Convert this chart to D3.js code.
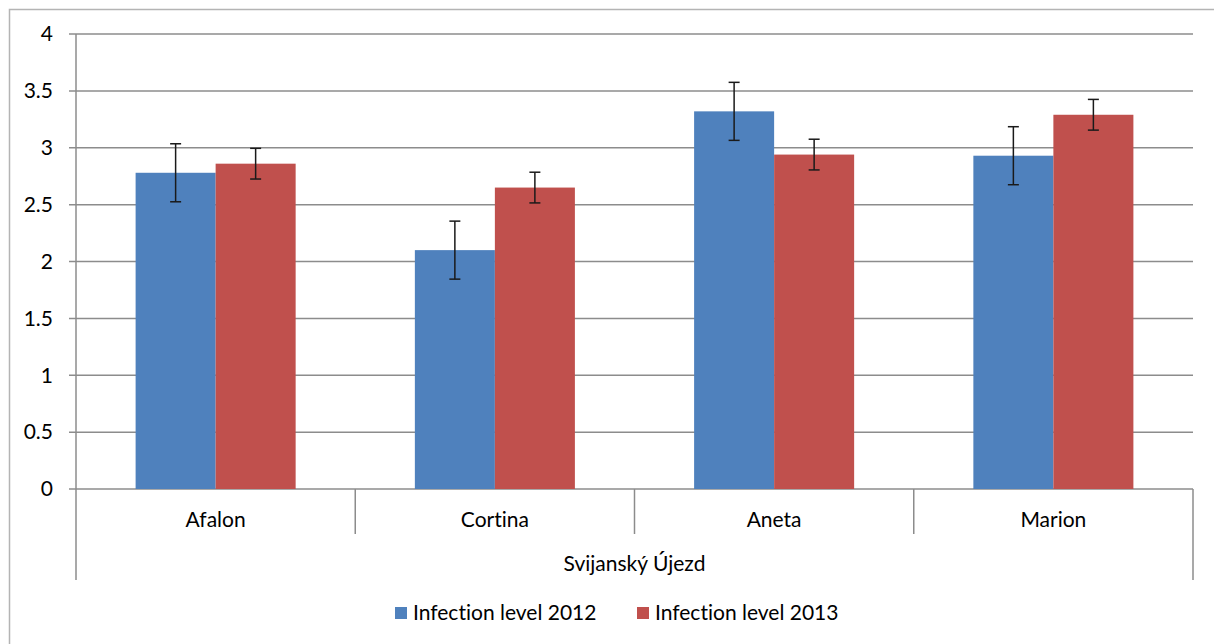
<!DOCTYPE html>
<html><head><meta charset="utf-8">
<script src="https://cdn.jsdelivr.net/npm/d3@7"></script>
<style>body{margin:0;background:#fff}svg{display:block}text{font-variant-ligatures:none;font-feature-settings:"liga" 0}</style>
</head><body>
<svg id="c" width="1214" height="644"></svg>
<script>
const categories = ["Afalon", "Cortina", "Aneta", "Marion"];
const seriesNames = ["Infection level 2012", "Infection level 2013"];
const values2012 = [2.78, 2.10, 3.32, 2.93];
const values2013 = [2.86, 2.65, 2.94, 3.29];
const err2012 = [0.255, 0.255, 0.255, 0.255];
const err2013 = [0.135, 0.135, 0.135, 0.135];
const yTicks = [0, 0.5, 1, 1.5, 2, 2.5, 3, 3.5, 4];
const groupLabel = "Svijanský Újezd";
const colors = ["#4f81bd", "#c0504d"];

const svg = d3.select("#c");
const font = "Lato, 'Open Sans', sans-serif";
const fs = 21;
const L = 76, R = 1193, T = 34, B = 489;
const grid = "#8c8c8c";

// outer frame
svg.append("path").attr("d", "M9.5,644 V9.5 H1214").attr("fill","none").attr("stroke","#b4b4b4").attr("stroke-width",1.5);

const y = d3.scaleLinear().domain([0,4]).range([B,T]);
const x0 = d3.scaleBand().domain(categories).range([L,R]).paddingInner(0).paddingOuter(0);
const x1 = d3.scaleBand().domain([0,1]).range([0, x0.bandwidth()]).paddingInner(0).paddingOuter(0.745);

// gridlines
svg.append("g").selectAll("line").data(yTicks).join("line")
  .attr("x1", L-7).attr("x2", R).attr("y1", d=>y(d)).attr("y2", d=>y(d))
  .attr("stroke", grid).attr("stroke-width", 1.5);

// y labels
svg.append("g").selectAll("text").data(yTicks).join("text")
  .attr("x", 53).attr("y", d=>y(d)).attr("dy","0.35em").attr("text-anchor","end")
  .attr("font-family", font).attr("font-size", fs).attr("fill","#000")
  .text(d=>d);

// bars
const data = [];
categories.forEach((c,i)=>{
  data.push({c, s:0, v:values2012[i], e:err2012[i]});
  data.push({c, s:1, v:values2013[i], e:err2013[i]});
});
svg.append("g").selectAll("rect").data(data).join("rect")
  .attr("x", d=>x0(d.c)+x1(d.s)).attr("width", x1.bandwidth())
  .attr("y", d=>y(d.v)).attr("height", d=>y(0)-y(d.v))
  .attr("fill", d=>colors[d.s]);

// error bars
const eg = svg.append("g").attr("stroke","#1a1a1a").attr("stroke-width",1.5);
data.forEach(d=>{
  const cx = x0(d.c)+x1(d.s)+x1.bandwidth()/2;
  eg.append("line").attr("x1",cx).attr("x2",cx).attr("y1",y(d.v+d.e)).attr("y2",y(d.v-d.e));
  eg.append("line").attr("x1",cx-5.5).attr("x2",cx+5.5).attr("y1",y(d.v+d.e)).attr("y2",y(d.v+d.e));
  eg.append("line").attr("x1",cx-5.5).attr("x2",cx+5.5).attr("y1",y(d.v-d.e)).attr("y2",y(d.v-d.e));
});

// axes lines
svg.append("line").attr("x1",L).attr("x2",L).attr("y1",T).attr("y2",580).attr("stroke",grid).attr("stroke-width",1.5);
svg.append("line").attr("x1",R).attr("x2",R).attr("y1",B).attr("y2",580).attr("stroke",grid).attr("stroke-width",1.5);
svg.append("g").selectAll("line").data(categories.slice(1)).join("line")
  .attr("x1", d=>x0(d)).attr("x2", d=>x0(d)).attr("y1", B).attr("y2", 534)
  .attr("stroke",grid).attr("stroke-width",1.5);

// category labels
svg.append("g").selectAll("text").data(categories).join("text")
  .attr("x", d=>x0(d)+x0.bandwidth()/2).attr("y", 520).attr("dy","0.35em")
  .attr("text-anchor","middle").attr("font-family",font).attr("font-size",fs).text(d=>d);
svg.append("text").attr("x",(L+R)/2).attr("y",564).attr("dy","0.35em")
  .attr("text-anchor","middle").attr("font-family",font).attr("font-size",fs).text(groupLabel);

// legend
const lx = [395, 637];
seriesNames.forEach((n,i)=>{
  svg.append("rect").attr("x",lx[i]).attr("y",607).attr("width",12).attr("height",12).attr("fill",colors[i]);
  svg.append("text").attr("x",lx[i]+18).attr("y",613).attr("dy","0.35em")
    .attr("font-family",font).attr("font-size",fs).text(n);
});
</script>
</body></html>
